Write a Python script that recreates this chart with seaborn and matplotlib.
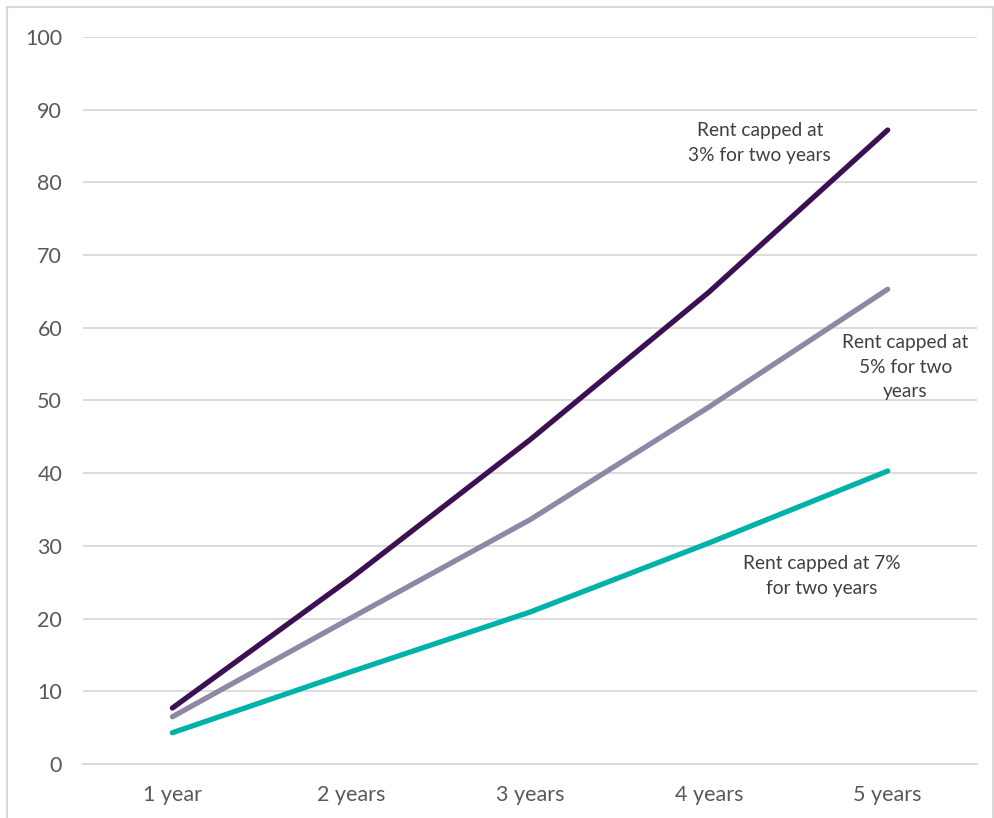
import pandas as pd
import matplotlib.pyplot as plt
import seaborn as sns
from matplotlib.patches import Rectangle

# Values
periods = ['1 year', '2 years', '3 years', '4 years', '5 years']
cap_3pct = [7.7, 25.6, 44.6, 64.9, 87.2]
cap_5pct = [6.5, 20.1, 33.6, 49.1, 65.3]
cap_7pct = [4.3, 12.7, 20.9, 30.4, 40.3]

series_names = ['3%', '5%', '7%']
colors = ['#3C1053', '#8E87A6', '#00B2A9']

label_3 = 'Rent capped at\n3% for two years'
label_5 = 'Rent capped at\n5% for two\nyears'
label_7 = 'Rent capped at 7%\nfor two years'


def main():
    df = pd.DataFrame({
        'period': periods * 3,
        'pos': list(range(len(periods))) * 3,
        'value': cap_3pct + cap_5pct + cap_7pct,
        'series': [s for s in series_names for _ in periods],
    })

    sns.set_style('white')
    plt.rcParams['font.family'] = ['Lato', 'DejaVu Sans']

    fig = plt.figure(figsize=(9.95, 8.18), dpi=100)
    ax = fig.add_axes([0.0834, 0.066, 0.8986, 0.8888])

    sns.lineplot(data=df, x='pos', y='value', hue='series', palette=colors,
                 linewidth=3.8, legend=False, ax=ax,
                 solid_capstyle='round', solid_joinstyle='round')

    ax.set_xlim(-0.5, 4.5)
    ax.set_ylim(0, 100)
    ax.set_yticks(range(0, 101, 10))
    ax.set_xticks(range(len(periods)))
    ax.set_xticklabels(periods)
    ax.set_xlabel('')
    ax.set_ylabel('')
    ax.grid(axis='y', color='#D9D9D9', linewidth=1.3)
    ax.set_axisbelow(True)
    for side in ['top', 'right', 'left']:
        ax.spines[side].set_visible(False)
    ax.spines['bottom'].set_color('#D9D9D9')
    ax.spines['bottom'].set_linewidth(1.3)
    ax.tick_params(axis='both', length=0, labelsize=15.5, colors='#595959')
    ax.tick_params(axis='y', pad=15)
    ax.tick_params(axis='x', pad=15)

    text_kw = dict(ha='center', va='center', fontsize=13.8, color='#404040',
                   linespacing=1.55)
    ax.text(3.285, 85.4, label_3, **text_kw)
    ax.text(4.10, 54.6, label_5, **text_kw)
    ax.text(3.63, 25.9, label_7, **text_kw)

    # light frame around the chart area
    fig.patches.append(Rectangle((7 / 995, -0.01), 986 / 995, 1.01 - 7 / 818,
                                 transform=fig.transFigure, fill=False,
                                 edgecolor='#D9D9D9', linewidth=1.5))

    fig.savefig('out.png', dpi=100)


if __name__ == '__main__':
    main()
